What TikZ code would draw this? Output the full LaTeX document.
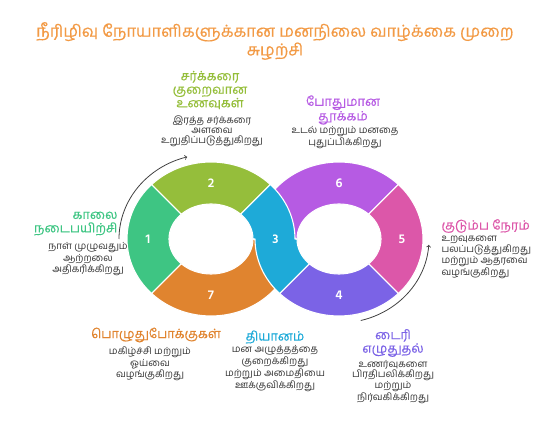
\documentclass[tikz,border=0pt]{standalone}
\usepackage{fontspec}
\setmainfont{Hind Madurai}[Script=Tamil]
\newfontfamily\headfont{Hind Madurai}[Script=Tamil,FakeBold=0.35]
\usetikzlibrary{calc}
\definecolor{segone}{HTML}{3EC583}
\definecolor{segtwo}{HTML}{95BE3B}
\definecolor{segthree}{HTML}{1EAAD8}
\definecolor{segfour}{HTML}{7B63E6}
\definecolor{segfive}{HTML}{DC57A9}
\definecolor{segsix}{HTML}{B65BE3}
\definecolor{segseven}{HTML}{E0842F}
\definecolor{titleorange}{HTML}{F29A45}
\definecolor{bodygray}{HTML}{333333}
\newcommand{\ringpart}[4]{%
  \filldraw[segment,fill=#4] ($(#1)+(#2:84 and 77)$) arc[start angle=#2,end angle=#3,x radius=84,y radius=77]
    -- ($(#1)+(#3:42 and 35)$) arc[start angle=#3,end angle=#2,x radius=42,y radius=35] -- cycle;}
\begin{document}
\begin{tikzpicture}[x=1pt,y=1pt,
    segment/.style={draw=white,line width=1.1pt,line join=round},
    num/.style={text=white,font=\fontsize{13}{13}\selectfont\bfseries},
    heading/.style={align=center,font=\headfont\fontsize{12.8}{13.5}\selectfont},
    body/.style={align=center,text=bodygray,font=\fontsize{9.8}{9.8}\selectfont},
    cyclearrow/.style={->,draw=black!75,line width=0.8pt}]
\useasboundingbox (0,0) rectangle (551,428);
\coordinate (L) at (211,189);
\coordinate (R) at (339,189);
% Title
    \node[align=center,text=titleorange,font=\headfont\fontsize{16.5}{17}\selectfont] (title) at (275,387) {நீரிழிவு நோயாளிகளுக்கான மனநிலை வாழ்க்கை முறை\\சுழற்சி};
% Rings
    \ringpart{R}{45}{180}{segsix}
    \ringpart{R}{-45}{45}{segfive}
    \ringpart{R}{225}{315}{segfour}
    \ringpart{L}{135}{225}{segone}
    \ringpart{L}{45}{135}{segtwo}
    \ringpart{L}{225}{360}{segseven}
    \filldraw[segment,fill=segthree] ($(L)+(45:42 and 35)$) -- ($(L)+(45:84 and 77)$)
        arc[start angle=45,end angle=0,x radius=84,y radius=77]
        -- ($(R)+(180:42 and 35)$) arc[start angle=180,end angle=225,x radius=42,y radius=35]
        -- ($(R)+(225:84 and 77)$) arc[start angle=225,end angle=180,x radius=84,y radius=77]
        -- ($(L)+(0:42 and 35)$) arc[start angle=0,end angle=45,x radius=42,y radius=35] -- cycle;
% Numbers
    \node[num] (n1) at ($(L)+(180:63 and 56)$) {1};
    \node[num] (n2) at ($(L)+(90:63 and 56)$) {2};
    \node[num] (n3) at (275.5,189) {3};
    \node[num] (n4) at ($(R)+(270:63 and 56)$) {4};
    \node[num] (n5) at ($(R)+(0:63 and 56)$) {5};
    \node[num] (n6) at ($(R)+(90:63 and 56)$) {6};
    \node[num] (n7) at ($(L)+(270:63 and 56)$) {7};
% Arrows
    \draw[cyclearrow] ($(L)+(180:92 and 85)$) arc[start angle=180,end angle=105,x radius=92,y radius=85];
    \draw[cyclearrow] ($(R)+(-76:90 and 84)$) arc[start angle=-76,end angle=-4,x radius=90,y radius=84];
% Labels
    \node[heading,text=segtwo] (h2) at (210,338) {சர்க்கரை\\குறைவான\\உணவுகள்};
    \node[body] (b2) at (212,296.5) {இரத்த சர்க்கரை\\அளவை\\உறுதிப்படுத்துகிறது};
    \node[heading,text=segsix] (h6) at (343,318) {போதுமான\\தூக்கம்};
    \node[body] (b6) at (345,290) {உடல் மற்றும் மனதை\\புதுப்பிக்கிறது};
    \node[heading,text=segone,align=right,anchor=east] (h1) at (121,204.5) {காலை\\நடைபயிற்சி};
    \node[body] (b1) at (88,169) {நாள் முழுவதும்\\ஆற்றலை\\அதிகரிக்கிறது};
    \node[heading,text=segfive,anchor=west] (h5) at (438,202) {குடும்ப நேரம்};
    \node[body,align=left,anchor=west] (b5) at (438,170.5) {உறவுகளை\\பலப்படுத்துகிறது\\மற்றும் ஆதரவை\\வழங்குகிறது};
    \node[heading,text=segseven] (h7) at (156,93) {பொழுதுபோக்குகள்};
    \node[body] (b7) at (150,64) {மகிழ்ச்சி மற்றும்\\ஓய்வை\\வழங்குகிறது};
    \node[heading,text=segthree] (h3) at (275,91) {தியானம்};
    \node[body] (b3) at (275,59.5) {மன அழுத்தத்தை\\குறைக்கிறது\\மற்றும் அமைதியை\\ஊக்குவிக்கிறது};
    \node[heading,text=segfour] (h4) at (393,85) {டைரி\\எழுதுதல்};
    \node[body] (b4) at (393,46) {உணர்வுகளை\\பிரதிபலிக்கிறது\\மற்றும்\\நிர்வகிக்கிறது};
\end{tikzpicture}
\end{document}
